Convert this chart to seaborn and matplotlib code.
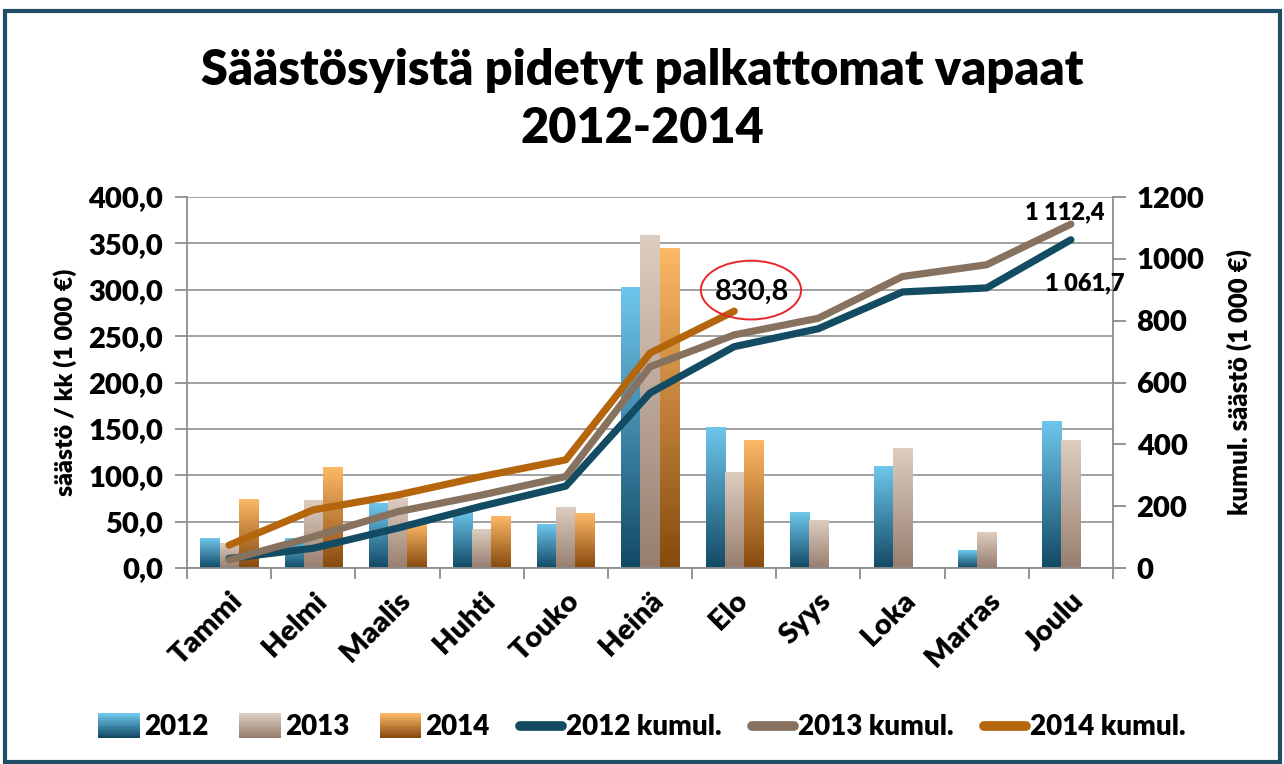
import numpy as np
import pandas as pd
import matplotlib
matplotlib.use("Agg")
import matplotlib.pyplot as plt
import seaborn as sns
from matplotlib.patches import Patch, Ellipse, Rectangle
from matplotlib.lines import Line2D
from matplotlib.legend_handler import HandlerBase
from matplotlib.colors import LinearSegmentedColormap
from matplotlib.ticker import FuncFormatter, MultipleLocator

months = ["Tammi", "Helmi", "Maalis", "Huhti", "Touko", "Heinä",
          "Elo", "Syys", "Loka", "Marras", "Joulu"]
years = ["2012", "2013", "2014"]

# monthly savings (1 000 €)
save_2012 = [32, 32, 70, 62, 47, 302, 151, 60, 109, 19, 158]
save_2013 = [26, 73, 75, 42, 65, 358, 103, 51, 129, 38, 137]
save_2014 = [74, 108, 48, 55, 59, 344, 138, np.nan, np.nan, np.nan, np.nan]

# cumulative savings (1 000 €)
cum_2012 = [31, 64, 129, 200, 265, 566, 716, 774, 893, 906, 1061.7]
cum_2013 = [26, 101, 182, 236, 296, 651, 754, 808, 943, 981, 1112.4]
cum_2014 = [74, 188, 236, 296, 350, 695, 830.8]

bar_grad = {
    "2012": ("#6ec6ec", "#124a66"),
    "2013": ("#ddcdc0", "#977f6f"),
    "2014": ("#fcb866", "#874a0e"),
}
line_col = {"2012": "#134b63", "2013": "#86725f", "2014": "#b5650b"}


def grad_cmap(yr):
    return LinearSegmentedColormap.from_list(yr, [bar_grad[yr][1], bar_grad[yr][0]])


class GradPatch(Patch):
    pass


class GradHandler(HandlerBase):
    def create_artists(self, legend, orig_handle, xdescent, ydescent,
                       width, height, fontsize, trans):
        cmap = grad_cmap(orig_handle.get_label())
        k = 14
        h = height * 1.3
        y0 = -ydescent - (h - height) / 2
        arts = []
        for j in range(k):
            arts.append(Rectangle((-xdescent, y0 + h * j / k), width, h / k * 1.05,
                                  facecolor=cmap(j / (k - 1)), edgecolor="none",
                                  transform=trans))
        return arts


df = pd.DataFrame({
    "month": months * 3,
    "year": sum([[y] * len(months) for y in years], []),
    "value": save_2012 + save_2013 + save_2014,
})

sns.set_theme(style="white")
plt.rcParams["font.family"] = ["Lato", "DejaVu Sans"]
plt.rcParams["font.weight"] = "heavy"
for key in ["text.color", "axes.labelcolor", "xtick.color", "ytick.color"]:
    plt.rcParams[key] = "black"

fig = plt.figure(figsize=(12.84, 7.64), dpi=100)
ax = fig.add_axes([0.1456, 0.2565, 0.7212, 0.4856])

sns.barplot(data=df, x="month", y="value", hue="year", order=months,
            hue_order=years, width=0.68, ax=ax, legend=False,
            palette=[bar_grad[y][0] for y in years], saturation=1,
            edgecolor="none")

# vertical gradient on every bar
n = len(months)
for i, p in enumerate(ax.patches[:3 * n]):
    h = p.get_height()
    if not np.isfinite(h) or h <= 0:
        continue
    yr = years[i // n]
    grad = np.linspace(0, 1, 100).reshape(-1, 1)
    x0 = p.get_x()
    ax.imshow(grad, cmap=grad_cmap(yr), origin="lower", aspect="auto",
              extent=[x0, x0 + p.get_width(), 0, h], zorder=2)
    p.set_visible(False)
ax.set_xlim(-0.5, len(months) - 0.5)
ax.set_ylim(0, 400)

ax.yaxis.set_major_locator(MultipleLocator(50))
ax.yaxis.set_major_formatter(FuncFormatter(lambda v, _: f"{v:.1f}".replace(".", ",")))
ax.grid(axis="y", color="#9a9a9a", linewidth=1.3)
ax.set_axisbelow(True)
ax.set_xticks(np.arange(-0.5, len(months), 1), minor=False)
ax.set_xticklabels([])
ax.set_xticks(np.arange(len(months)), minor=True)
ax.set_xticklabels(months, minor=True, rotation=45, ha="right",
                   rotation_mode="anchor", fontsize=21, fontweight="heavy")
ax.tick_params(axis="x", which="major", direction="out", length=8,
               color="#8c8c8c", width=1.3, bottom=True)
ax.tick_params(axis="x", which="minor", length=0, pad=14)
ax.tick_params(axis="y", direction="out", length=9, color="#8c8c8c",
               width=1.3, left=True, labelsize=21, pad=8)
for lbl in ax.get_yticklabels():
    lbl.set_fontweight("heavy")
ax.set_xlabel("")
ax.set_ylabel("säästö / kk (1 000 €)", fontsize=18, fontweight="heavy", labelpad=8)
for s in ["left", "bottom", "right"]:
    ax.spines[s].set_color("#8c8c8c")
    ax.spines[s].set_linewidth(1.3)
ax.spines["top"].set_visible(False)

# cumulative lines on the secondary axis
ax2 = ax.twinx()
for yr, vals in zip(years, [cum_2012, cum_2013, cum_2014]):
    sns.lineplot(x=np.arange(len(vals)), y=vals, ax=ax2, color=line_col[yr],
                 linewidth=5.2, solid_capstyle="round", solid_joinstyle="round",
                 zorder=4)
ax2.set_ylim(0, 1200)
ax2.set_xlim(-0.5, len(months) - 0.5)
ax2.yaxis.set_major_locator(MultipleLocator(200))
ax2.tick_params(axis="y", direction="out", length=9, color="#8c8c8c",
                width=1.3, right=True, labelsize=21, pad=8)
for lbl in ax2.get_yticklabels():
    lbl.set_fontweight("heavy")
ax2.set_ylabel("kumul. säästö (1 000 €)", fontsize=18.5, fontweight="heavy",
               rotation=90, labelpad=16)
ax2.grid(False)
for s in ax2.spines.values():
    s.set_visible(False)

# value labels
ax2.text(9.93, 1150, "1 112,4", ha="center", va="center", fontsize=17, fontweight="heavy")
ax2.text(10.17, 922, "1 061,7", ha="center", va="center", fontsize=17, fontweight="heavy")
ax2.text(6.21, 893, "830,8", ha="center", va="center", fontsize=21, fontweight="bold")
ax2.add_patch(Ellipse((6.2, 899), 1.19, 190, fill=False, edgecolor="#e8262a",
                      linewidth=1.4, zorder=5))

fig.text(0.5, 0.908, "Säästösyistä pidetyt palkattomat vapaat", ha="center",
         va="center", fontsize=35, fontweight="heavy")
fig.text(0.5, 0.832, "2012-2014", ha="center", va="center", fontsize=35,
         fontweight="heavy")

handles = [GradPatch(label=y) for y in years]
handles += [Line2D([0], [0], color=line_col[y], linewidth=7,
                   solid_capstyle="round", label=f"{y} kumul.") for y in years]
fig.legend(handles=handles, handler_map={GradPatch: GradHandler()},
           loc="center", bbox_to_anchor=(0.5, 0.048), ncol=6,
           frameon=False, handlelength=1.5, handletextpad=0.15,
           columnspacing=1.1, prop={"weight": "heavy", "size": 20})

fig.patches.append(Rectangle((0.004, 0.003), 0.993, 0.982, transform=fig.transFigure,
                             fill=False, edgecolor="#1f4e66", linewidth=3))

fig.savefig("out.png", dpi=100)
